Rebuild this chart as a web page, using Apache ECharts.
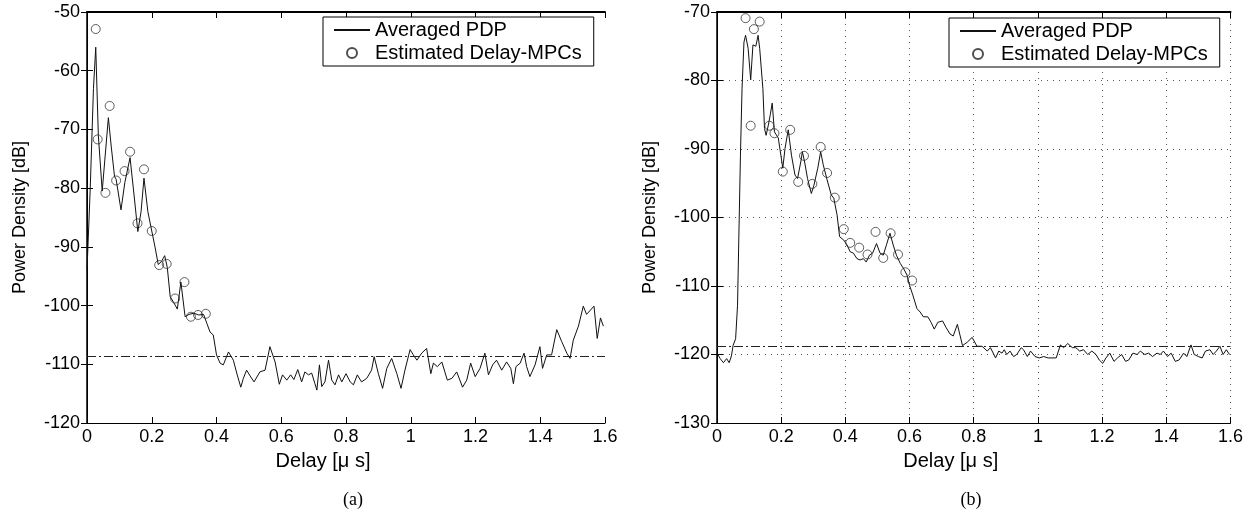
<!DOCTYPE html>
<html>
<head>
<meta charset="utf-8">
<script src="https://cdn.jsdelivr.net/npm/echarts@6/dist/echarts.min.js"></script>
<style>
  html, body { margin: 0; background: #fff; }
  #chart { width: 1246px; height: 512px; }
</style>
</head>
<body>
<div id="chart"></div>
<script>
// (a) averaged PDP, delay in us / power in dB
const pdpA_t = [0, 0.01, 0.02, 0.027, 0.035, 0.047, 0.052, 0.066, 0.075, 0.085, 0.09, 0.105, 0.117, 0.133, 0.145, 0.157, 0.167, 0.176, 0.188, 0.2, 0.21, 0.22, 0.23, 0.24, 0.248, 0.257, 0.268, 0.279, 0.29, 0.303, 0.315, 0.33, 0.345, 0.36, 0.37, 0.38, 0.39, 0.4,
  0.411, 0.421, 0.437, 0.452, 0.464, 0.475, 0.483, 0.493, 0.504, 0.516, 0.534, 0.55, 0.565, 0.581, 0.594, 0.604, 0.617, 0.629, 0.639, 0.651, 0.663, 0.673, 0.684, 0.694, 0.704, 0.71, 0.718, 0.725, 0.735, 0.746, 0.756, 0.766, 0.777, 0.787, 0.8, 0.813, 0.823, 0.835, 0.848, 0.864, 0.879, 0.887, 0.9, 0.913, 0.926, 0.941, 0.957, 0.97, 0.982, 0.998,
  1.008, 1.019, 1.034, 1.049, 1.062, 1.07, 1.082, 1.096, 1.113, 1.127, 1.142, 1.16, 1.173, 1.185, 1.199, 1.214, 1.229, 1.24, 1.253, 1.265, 1.281, 1.296, 1.309, 1.317, 1.325, 1.338, 1.35, 1.358, 1.368, 1.384, 1.399, 1.407, 1.42, 1.435, 1.451, 1.466, 1.482, 1.492, 1.502, 1.518, 1.533, 1.543, 1.566, 1.576, 1.586, 1.595];
const pdpA_db = [-94, -80, -63, -56, -71, -80.5, -80.5, -68, -73, -78, -78.5, -83.7, -79, -74.8, -81, -87.4, -84, -78.3, -84, -87.3, -90, -93, -92.5, -91.5, -93.5, -98.5, -99.5, -100.6, -96, -101.9, -101.5, -101.3, -101.6, -101.5, -103, -104.5, -105, -108.4,
  -109.8, -110.1, -107.9, -109.3, -111.8, -113.9, -112.4, -111, -112, -113, -111.3, -111, -107, -109.6, -113.4, -111.8, -112.7, -111.8, -112.6, -110.9, -113, -111.3, -111.8, -111.5, -113.3, -114.4, -110.1, -113.8, -113, -109.3, -112.7, -113.5, -111.8, -113, -111.6, -113, -113.5, -111.8, -113, -112.4, -111, -108.7, -111.6, -114.1, -110.7, -109, -111.6, -114.1, -111, -107.5,
  -108.4, -109.3, -108.1, -107.3, -111.6, -109.8, -110.4, -109.6, -112.7, -112.4, -111.3, -113.9, -112.7, -109.8, -112.1, -110.7, -108.1, -111.8, -110.1, -109.3, -111, -109.6, -110.7, -113.3, -110.4, -109.8, -108.1, -110.4, -112.1, -110.1, -107, -110.7, -108.4, -108.4, -104.1, -106.1, -108.1, -109, -105.9, -103.5, -100.1, -101.5, -100.1, -105.6, -102.1, -103.5];
const mpcA_t = [0.027, 0.033, 0.057, 0.07, 0.09, 0.116, 0.133, 0.156, 0.176, 0.2, 0.223, 0.246, 0.272, 0.301, 0.321, 0.343, 0.367];
const mpcA_db = [-52.9, -71.7, -80.8, -66, -78.7, -77.1, -73.8, -86, -76.8, -87.3, -93.1, -92.9, -98.8, -96, -101.9, -101.6, -101.4];
const noiseA = -108.7;

// (b)
const pdpB_t = [0, 0.01, 0.02, 0.025, 0.03, 0.038, 0.045, 0.05, 0.058, 0.064, 0.068, 0.073, 0.078, 0.084, 0.089, 0.097, 0.105, 0.112, 0.121, 0.128, 0.133, 0.143, 0.148, 0.153, 0.16, 0.166, 0.172, 0.179, 0.191, 0.199, 0.205, 0.212, 0.222, 0.232, 0.243, 0.251, 0.261, 0.266, 0.273, 0.282, 0.294, 0.302, 0.314, 0.323, 0.331, 0.343, 0.356, 0.364, 0.374, 0.382, 0.395,
  0.405, 0.415, 0.425, 0.436, 0.446, 0.456, 0.465, 0.475, 0.485, 0.497, 0.508, 0.518, 0.528, 0.539, 0.549, 0.559, 0.571, 0.582, 0.592, 0.6, 0.61, 0.623, 0.633, 0.643, 0.657, 0.667, 0.677, 0.688, 0.703, 0.713, 0.726, 0.736, 0.749, 0.765, 0.78, 0.795, 0.81, 0.826,
  0.842, 0.852, 0.868, 0.878, 0.888, 0.895, 0.903, 0.913, 0.924, 0.934, 0.948, 0.955, 0.967, 0.977, 0.991, 1.004, 1.018, 1.032, 1.047, 1.057, 1.07, 1.08, 1.093, 1.107, 1.118, 1.13, 1.142, 1.155, 1.168, 1.181, 1.191, 1.202, 1.212, 1.224, 1.237, 1.248, 1.261, 1.273, 1.283, 1.296, 1.309, 1.319, 1.333, 1.345, 1.357, 1.371, 1.381, 1.391, 1.404, 1.415, 1.428, 1.44, 1.454, 1.464, 1.477, 1.487, 1.5, 1.512, 1.522, 1.536, 1.546, 1.556, 1.567, 1.577, 1.587, 1.597];
const pdpB_db = [-119.8, -120.6, -121.2, -121, -120.6, -121.2, -120.2, -118.7, -117.7, -112.8, -103, -91, -81.2, -74.4, -73.4, -75.3, -79.9, -74.8, -75, -73.4, -75.3, -81.2, -87, -88, -86.5, -85, -83.3, -87.5, -88.4, -90.9, -92.8, -89.9, -87.2, -90.9, -93.8, -94.3, -91.9, -90.4, -91.9, -94.3, -96.5, -95.3, -92.8, -90.4, -92.3, -94.5, -96.7, -97.2, -99.6, -102.8, -103.3,
  -104, -105, -105.2, -106, -106.2, -106, -106.5, -105.5, -105.2, -103.8, -105.2, -105.5, -104, -102.3, -104, -105.5, -106.7, -107.5, -108.4, -109.9, -111.3, -113.3, -113.8, -114.5, -114.5, -115.3, -116.3, -115.3, -115.1, -116, -117, -117.3, -115.6, -118.7, -118.2, -117.5, -118.8, -118.8,
  -119.5, -119, -120.5, -119.5, -119.8, -119.3, -120, -119.5, -120.3, -120, -119, -119.3, -120.3, -119.5, -120.3, -120.5, -120.3, -120.5, -120.5, -120.5, -118.6, -119, -118.4, -119, -119, -119.5, -119.3, -120, -119.5, -120, -120.8, -121.3, -120.5, -119.8, -121, -120.5, -120, -121, -120.8, -119.8, -120, -119.5, -120, -119.8, -120.3, -119.8, -120, -119.5, -120.3, -119.8, -121, -120.8, -119.8, -120.3, -118.6, -120, -120.3, -120.5, -119.5, -119.3, -120, -119.5, -118.8, -120, -119.3, -120];
const mpcB_t = [0.089, 0.105, 0.115, 0.133, 0.163, 0.179, 0.205, 0.228, 0.253, 0.271, 0.297, 0.323, 0.343, 0.367, 0.395, 0.415, 0.443, 0.469, 0.494, 0.518, 0.541, 0.564, 0.587, 0.608];
const mpcB_db = [-70.9, -86.6, -72.5, -71.4, -86.6, -87.7, -93.3, -87.2, -94.8, -91, -95.1, -89.7, -93.5, -97.1, -101.7, -103.7, -104.4, -105.4, -102.1, -105.9, -102.3, -105.4, -108, -109.2];
const noiseB = -118.8;

const zip = (xs, ys) => xs.map((x, i) => [x, ys[i]]);
const FONT = 'Liberation Sans';

function bottomX(grid, grids) {
  return {
    type: 'value', gridIndex: grid, min: 0, max: 1.6, interval: 0.2,
    name: 'Delay [\u03bc s]', nameLocation: 'middle', nameGap: 28,
    nameTextStyle: { fontFamily: FONT, fontSize: 20, color: '#000', padding: [0, 46, 0, 0] },
    axisLine: { lineStyle: { color: '#000', width: 1 } },
    axisTick: { inside: true, length: 6, lineStyle: { color: '#000' } },
    axisLabel: { fontFamily: FONT, fontSize: 18, color: '#000', margin: 5 },
    splitLine: { show: grids, lineStyle: { color: '#555', type: [1, 5] } }
  };
}
function topX(grid) {
  return {
    type: 'value', gridIndex: grid, position: 'top', min: 0, max: 1.6, interval: 0.2,
    axisLine: { lineStyle: { color: '#000', width: 2 } },
    axisTick: { inside: true, length: 6, lineStyle: { color: '#000' } },
    axisLabel: { show: false }, splitLine: { show: false }
  };
}
function leftY(grid, min, max, grids) {
  return {
    type: 'value', gridIndex: grid, min: min, max: max, interval: 10,
    name: 'Power Density [dB]', nameLocation: 'middle', nameGap: 58,
    nameTextStyle: { fontFamily: FONT, fontSize: 18, color: '#000' },
    axisLine: { show: true, lineStyle: { color: '#000', width: 1 } },
    axisTick: { show: true, inside: true, length: 6, lineStyle: { color: '#000' } },
    axisLabel: { fontFamily: FONT, fontSize: 18, color: '#000', margin: 7 },
    splitLine: { show: grids, lineStyle: { color: '#555', type: [1, 5] } }
  };
}
function rightY(grid, min, max) {
  return {
    type: 'value', gridIndex: grid, position: 'right', min: min, max: max, interval: 10,
    axisLine: { show: true, lineStyle: { color: '#000', width: 1.5 } },
    axisTick: { show: true, inside: true, length: 6, lineStyle: { color: '#000' } },
    axisLabel: { show: false }, splitLine: { show: false }
  };
}
function pdpSeries(name, xi, yi, data, noise) {
  return {
    name: name, type: 'line', xAxisIndex: xi, yAxisIndex: yi, data: data,
    symbol: 'none', lineStyle: { color: '#111', width: 1 }, itemStyle: { color: '#111' },
    animation: false, z: 3,
    markLine: {
      silent: true, symbol: 'none', label: { show: false },
      lineStyle: { color: '#222', width: 1, type: [9, 3, 2, 3] },
      data: [{ yAxis: noise }]
    }
  };
}
function mpcSeries(name, xi, yi, data) {
  return {
    name: name, type: 'scatter', xAxisIndex: xi, yAxisIndex: yi, data: data,
    symbol: 'circle', symbolSize: 9,
    itemStyle: { color: 'rgba(255,255,255,0)', borderColor: '#222', borderWidth: 0.9 },
    animation: false, z: 4
  };
}
function legendAt(left, top) {
  return {
    orient: 'vertical', left: left, top: top,
    data: [
      { name: 'Averaged PDP', itemStyle: { opacity: 0 } },
      { name: 'Estimated Delay-MPCs' }
    ],
    backgroundColor: '#fff', borderColor: '#000', borderWidth: 1,
    padding: [3, 12, 3, 10], itemGap: 3, itemWidth: 36, itemHeight: 10,
    textStyle: { fontFamily: FONT, fontSize: 20, color: '#000', lineHeight: 20 },
    selectedMode: false
  };
}

const chart = echarts.init(document.getElementById('chart'), null, { renderer: 'canvas' });
chart.setOption({
  backgroundColor: '#fff',
  animation: false,
  grid: [
    { left: 87, top: 12, width: 518, height: 411 },
    { left: 717, top: 12, width: 519, height: 411 }
  ],
  title: [
    { text: '(a)', left: 348, top: 486, textAlign: 'center', textStyle: { fontFamily: 'Liberation Serif', fontSize: 18, fontWeight: 'normal', color: '#000' } },
    { text: '(b)', left: 966, top: 486, textAlign: 'center', textStyle: { fontFamily: 'Liberation Serif', fontSize: 18, fontWeight: 'normal', color: '#000' } }
  ],
  legend: [legendAt(323, 17), legendAt(949, 18)],
  xAxis: [bottomX(0, false), topX(0), bottomX(1, true), topX(1)],
  yAxis: [leftY(0, -120, -50, false), rightY(0, -120, -50), leftY(1, -130, -70, true), rightY(1, -130, -70)],
  series: [
    pdpSeries('Averaged PDP', 0, 0, zip(pdpA_t, pdpA_db), noiseA),
    mpcSeries('Estimated Delay-MPCs', 0, 0, zip(mpcA_t, mpcA_db)),
    pdpSeries('Averaged PDP', 2, 2, zip(pdpB_t, pdpB_db), noiseB),
    mpcSeries('Estimated Delay-MPCs', 2, 2, zip(mpcB_t, mpcB_db))
  ]
});
</script>
</body>
</html>
